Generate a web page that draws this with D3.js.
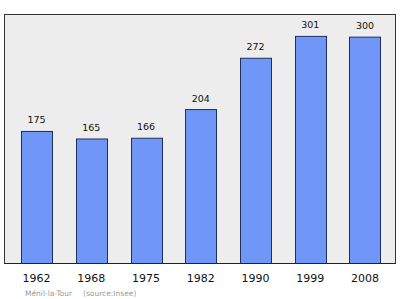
<!DOCTYPE html>
<html>
<head>
<meta charset="utf-8">
<script src="https://cdn.jsdelivr.net/npm/d3@7"></script>
<style>
  body { margin: 0; background: #fff; }
  svg { display: block; }
</style>
</head>
<body>
<svg id="canvas" width="400" height="299"></svg>
<script>
let years = ['1962', '1968', '1975', '1982', '1990', '1999', '2008']
let population = [175, 165, 166, 204, 272, 301, 300]
let place = 'Ménil-la-Tour'
let source = '(source:Insee)'

let canvas = d3.select('#canvas')

let frameLeft = 4.5, frameRight = 395.5, frameTop = 14.5, frameBottom = 263.5

// frame
canvas.append('rect')
      .attr('x', frameLeft)
      .attr('y', frameTop)
      .attr('width', frameRight - frameLeft)
      .attr('height', frameBottom - frameTop)
      .attr('fill', '#ededed')
      .attr('stroke', '#333')
      .attr('stroke-width', 1)

let x = d3.scaleBand()
          .domain(years)
          .range([4.6, 396.9])
          .paddingInner(0.434)
          .paddingOuter(0.3)

let y = d3.scaleLinear()
          .domain([0, 330])
          .range([frameBottom, frameTop])

canvas.selectAll('.bar')
      .data(years)
      .enter()
      .append('rect')
      .attr('class', 'bar')
      .attr('x', (d) => Math.round(x(d)) + 0.5)
      .attr('y', (d, i) => y(population[i]))
      .attr('width', Math.round(x.bandwidth()))
      .attr('height', (d, i) => frameBottom - y(population[i]))
      .attr('fill', '#7096f8')
      .attr('stroke', '#1e2f5e')
      .attr('stroke-width', 1)

canvas.selectAll('.value')
      .data(years)
      .enter()
      .append('text')
      .attr('class', 'value')
      .attr('x', (d) => x(d) + x.bandwidth() / 2)
      .attr('y', (d, i) => y(population[i]) - 8)
      .attr('text-anchor', 'middle')
      .attr('font-family', 'DejaVu Sans, sans-serif')
      .attr('font-size', 9.5)
      .attr('fill', '#111')
      .text((d, i) => population[i])

// axis line redrawn on top
canvas.append('line')
      .attr('x1', frameLeft)
      .attr('x2', frameRight)
      .attr('y1', frameBottom)
      .attr('y2', frameBottom)
      .attr('stroke', '#222')

canvas.selectAll('.year')
      .data(years)
      .enter()
      .append('text')
      .attr('class', 'year')
      .attr('x', (d) => x(d) + x.bandwidth() / 2)
      .attr('y', 282)
      .attr('text-anchor', 'middle')
      .attr('font-family', 'DejaVu Sans, sans-serif')
      .attr('font-size', 11)
      .attr('fill', '#111')
      .text((d) => d)

canvas.append('text')
      .attr('x', 25)
      .attr('y', 296)
      .attr('font-family', 'DejaVu Sans, sans-serif')
      .attr('font-size', 7.5)
      .attr('fill', '#999')
      .text(place)

canvas.append('text')
      .attr('x', 83)
      .attr('y', 296)
      .attr('font-family', 'DejaVu Sans, sans-serif')
      .attr('font-size', 7.5)
      .attr('fill', '#999')
      .text(source)
</script>
</body>
</html>
